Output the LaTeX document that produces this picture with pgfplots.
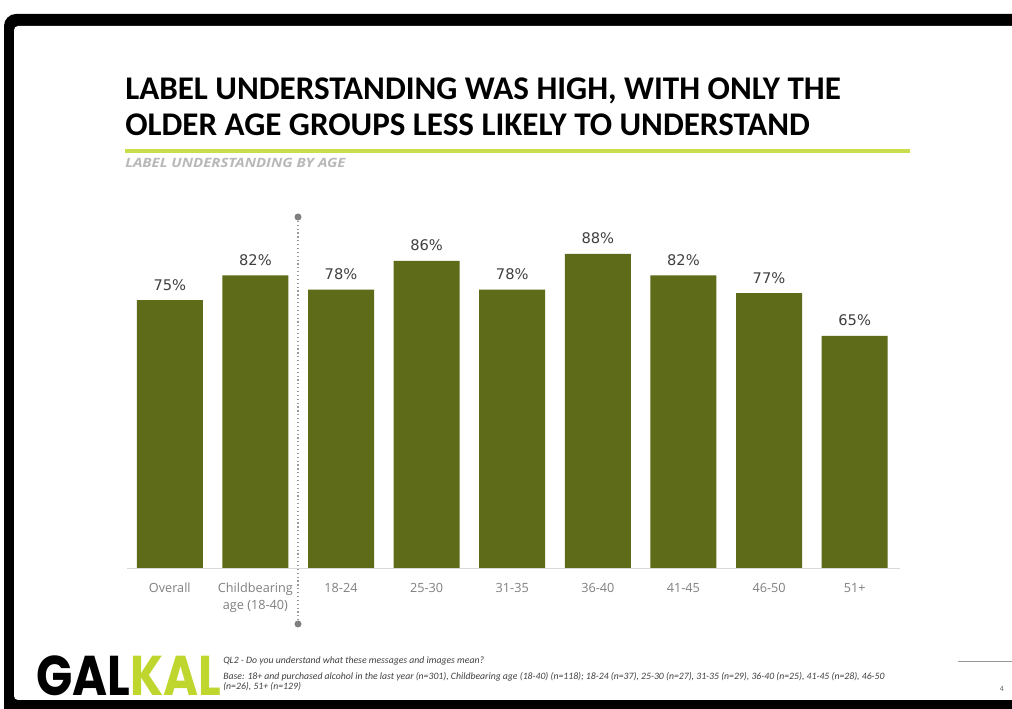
\documentclass[border=0pt]{standalone}
\usepackage{pgfplots}
\pgfplotsset{compat=1.18}
\usepackage{graphicx}
\usepackage{fontspec}
\setmainfont{Carlito}
\newfontfamily\opensans{Open Sans}
\newfontfamily\dvs{DejaVu Sans}
\newfontfamily\pop{Poppins}
\definecolor{barcol}{HTML}{5E6B18}
\definecolor{lime}{HTML}{BFD62F}
\definecolor{limeline}{HTML}{C8DC4C}
\begin{document}
\begin{tikzpicture}
\begin{scope}[x=0.75pt,y=0.75pt]
\clip (0,0) rectangle (1012,709);
\fill[black, rounded corners=9pt] (4,-20) rectangle (1040,695);
\fill[white, rounded corners=3pt] (14,9) rectangle (1040,683);
% title
\node[anchor=base west, inner sep=0, font=\fontsize{24.8}{28}\selectfont\bfseries] at (125,609) {LABEL UNDERSTANDING WAS HIGH, WITH ONLY THE};
\node[anchor=base west, inner sep=0, font=\fontsize{24.8}{28}\selectfont\bfseries] at (125,573) {OLDER AGE GROUPS LESS LIKELY TO UNDERSTAND};
\draw[limeline, line width=2.3pt] (125,558) -- (910,558);
\node[anchor=base west, inner sep=0, font=\opensans\fontsize{9.6}{11}\selectfont\bfseries\itshape, text=black!28] at (125,541) {\scalebox{1.17}[1]{LABEL UNDERSTANDING BY AGE}};
% dotted separator
\draw[black!40, dotted, line width=0.9pt] (298,492) -- (298,85);
\fill[black!50] (298,492) circle (3.5);
\fill[black!50] (298,85) circle (3.5);
% footer
\node[anchor=base west, inner sep=0, font=\pop\bfseries\fontsize{42}{44}\selectfont] at (36,13) {\scalebox{0.85}[1]{GAL\textcolor{lime}{KAL}}};
\node[anchor=base west, inner sep=0, font=\fontsize{7.3}{8}\selectfont\itshape, text=black!75] at (223,45) {QL2 - Do you understand what these messages and images mean?};
\node[anchor=base west, inner sep=0, font=\fontsize{7.3}{8}\selectfont\itshape, text=black!75] at (223,29) {Base: 18+ and purchased alcohol in the last year (n=301), Childbearing age (18-40) (n=118); 18-24 (n=37), 25-30 (n=27), 31-35 (n=29), 36-40 (n=25), 41-45 (n=28), 46-50};
\node[anchor=base west, inner sep=0, font=\fontsize{7.3}{8}\selectfont\itshape, text=black!75] at (223,19) {(n=26), 51+ (n=129)};
\draw[black!40, line width=0.75pt] (958,47) -- (1012,47);
\node[anchor=base, inner sep=0, font=\fontsize{6}{7}\selectfont, text=black!60] at (1002,17) {4};
\end{scope}
% chart
\begin{axis}[at={(95.25pt,105.75pt)}, anchor=south west, scale only axis,
  width=579.75pt, height=267.75pt,
  xmin=-0.5, xmax=8.53, ymin=0, ymax=100,
  ybar, bar width=49.5pt,
  hide y axis, axis x line*=bottom,
  x axis line style={draw=black!15,-},
  xtick=data, major tick length=0pt,
  xticklabels={Overall,{Childbearing\\age (18-40)},18-24,25-30,31-35,36-40,41-45,46-50,51+},
  typeset ticklabels with strut,
  xticklabel style={font=\opensans\fontsize{9.5}{12.75}\selectfont, text=black!50, align=center, yshift=-6pt},
  nodes near coords={\pgfmathprintnumber[assume math mode=true]{\pgfplotspointmeta}\%},
  every node near coord/.append style={font=\dvs\fontsize{11}{13}\selectfont, text=black!75, anchor=base, yshift=7.5pt},
  clip=false]
\addplot[fill=barcol, draw=none] coordinates {(0,75) (1,82) (2,78) (3,86) (4,78) (5,88) (6,82) (7,77) (8,65)};
\end{axis}
\end{tikzpicture}
\end{document}
